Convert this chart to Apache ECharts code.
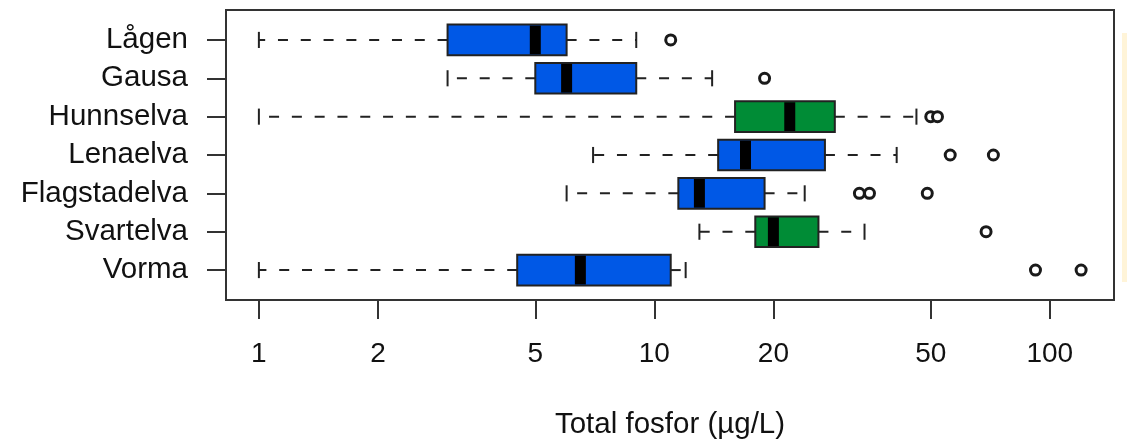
<!DOCTYPE html>
<html>
<head>
<meta charset="utf-8">
<script src="https://cdn.jsdelivr.net/npm/echarts@6/dist/echarts.min.js"></script>
<style>html,body{margin:0;padding:0;background:#fff}#c{width:1127px;height:447px}</style>
</head>
<body>
<div id="c"></div>
<script>
// ---- data ----
const categories = ['Lågen', 'Gausa', 'Hunnselva', 'Lenaelva', 'Flagstadelva', 'Svartelva', 'Vorma'];
const minVals    = [1, 3, 1, 7, 6, 13, 1];
const q1Vals     = [3, 5, 16, 14.5, 11.5, 18, 4.5];
const medianVals = [5, 6, 22, 17, 13, 20, 6.5];
const q3Vals     = [6, 9, 28.6, 27, 19, 26, 11];
const maxVals    = [9, 14, 46, 41, 24, 34, 12];
const outlierVals = [[11], [19], [50, 52], [56, 72], [33, 35, 49], [69], [92, 120]];
const boxGroup   = ['A', 'A', 'B', 'A', 'A', 'B', 'A'];
const tickValues = [1, 2, 5, 10, 20, 50, 100];
const axisTitle  = 'Total fosfor (µg/L)';

// ---- styles / layout ----
const groupColor = { A: '#0058E6', B: '#008C36' };
const FONT = 'Liberation Sans, Arial, sans-serif';
const TEXT = '#111';
const frame = { left: 226, top: 10, width: 888, height: 290 };

// R-like axis extension (4%)
const n = categories.length;
const yUnits = n + 2 * 0.04 * n;
const unit = frame.height / yUnits;
const yPad = 0.04 * n * unit;
const allVals = [].concat(minVals, maxVals, ...outlierVals);
const lo = Math.log10(Math.min(...allVals));
const hi = Math.log10(Math.max(...allVals));
const ext = 0.04 * (hi - lo);
const xMinLog = lo - ext, xMaxLog = hi + ext;

const boxData = categories.map((c, i) => [i, minVals[i], q1Vals[i], medianVals[i], q3Vals[i], maxVals[i]]);
const outlierData = [];
outlierVals.forEach((arr, i) => arr.forEach(v => outlierData.push([v, i])));

const chart = echarts.init(document.getElementById('c'), null, { renderer: 'canvas' });

const lineCol = '#222';
function renderBox(params, api) {
  const cat = api.value(0);
  const band = api.size([0, 1], [1, cat])[1];
  const pMin = api.coord([api.value(1), cat]);
  const pQ1 = api.coord([api.value(2), cat]);
  const pMed = api.coord([api.value(3), cat]);
  const pQ3 = api.coord([api.value(4), cat]);
  const pMax = api.coord([api.value(5), cat]);
  const y = pMed[1];
  const boxH = band * 0.8;
  const capH = band * 0.42;
  const dash = { stroke: lineCol, lineWidth: 2, lineDash: [10, 12.8] };
  const solid = { stroke: lineCol, lineWidth: 2 };
  return {
    type: 'group',
    children: [
      { type: 'line', shape: { x1: pQ1[0], y1: y, x2: pMin[0], y2: y }, style: dash },
      { type: 'line', shape: { x1: pQ3[0], y1: y, x2: pMax[0], y2: y }, style: dash },
      { type: 'line', shape: { x1: pMin[0], y1: y - capH / 2, x2: pMin[0], y2: y + capH / 2 }, style: solid },
      { type: 'line', shape: { x1: pMax[0], y1: y - capH / 2, x2: pMax[0], y2: y + capH / 2 }, style: solid },
      { type: 'rect', shape: { x: pQ1[0], y: y - boxH / 2, width: pQ3[0] - pQ1[0], height: boxH },
        style: { fill: groupColor[boxGroup[params.dataIndex]], stroke: lineCol, lineWidth: 2 } },
      { type: 'rect', shape: { x: pMed[0] - 5.5, y: y - boxH / 2 + 1, width: 11, height: boxH - 2 },
        style: { fill: '#000' } }
    ]
  };
}

const option = {
  animation: false,
  backgroundColor: '#fff',
  grid: [
    { left: frame.left, top: frame.top + yPad, width: frame.width, height: n * unit, containLabel: false },
    { left: frame.left, top: frame.top, width: frame.width, height: frame.height, show: true,
      borderColor: '#333', borderWidth: 2, backgroundColor: 'transparent', z: 5 }
  ],
  xAxis: [
    { gridIndex: 0, type: 'log', min: Math.pow(10, xMinLog), max: Math.pow(10, xMaxLog), show: false,
      axisLine: { onZero: false } },
    { gridIndex: 0, type: 'value', position: 'bottom', offset: yPad, min: xMinLog, max: xMaxLog,
      axisLine: { show: false, onZero: false },
      axisTick: { show: true, customValues: tickValues.map(Math.log10), length: 19,
        lineStyle: { color: '#333', width: 2 } },
      axisLabel: { show: true, customValues: tickValues.map(Math.log10), margin: 40, hideOverlap: false,
        fontSize: 28, fontFamily: FONT, color: TEXT,
        formatter: v => { const t = tickValues.find(tv => Math.abs(Math.log10(tv) - v) < 1e-6); return t == null ? '' : String(t); } },
      splitLine: { show: false },
      name: axisTitle, nameLocation: 'middle', nameGap: 110,
      nameTextStyle: { fontSize: 29.5, fontFamily: FONT, color: TEXT } },
    { gridIndex: 1, type: 'value', show: false, min: 0, max: 1 }
  ],
  yAxis: [
    { gridIndex: 0, type: 'category', data: categories, inverse: true,
      axisLine: { show: false, onZero: false },
      axisTick: { show: true, alignWithLabel: true, interval: 0, length: 19, lineStyle: { color: '#333', width: 2 } },
      axisLabel: { interval: 0, hideOverlap: false, margin: 38, fontSize: 29.5, fontFamily: FONT, color: TEXT },
      splitLine: { show: false } },
    { gridIndex: 1, type: 'value', show: false, min: 0, max: 1 }
  ],
  series: [
    { type: 'custom', xAxisIndex: 0, yAxisIndex: 0, data: boxData,
      encode: { x: [1, 2, 3, 4, 5], y: 0 }, renderItem: renderBox, z: 2 },
    { type: 'scatter', xAxisIndex: 0, yAxisIndex: 0, data: outlierData, symbol: 'circle', symbolSize: 10,
      itemStyle: { color: '#fff', borderColor: '#1a1a1a', borderWidth: 3, opacity: 1 }, z: 3 }
  ],
  graphic: [
    { type: 'rect', shape: { x: 1122, y: 33, width: 5, height: 249 }, style: { fill: '#FFF4D8' }, silent: true }
  ]
};
chart.setOption(option);
</script>
</body>
</html>
